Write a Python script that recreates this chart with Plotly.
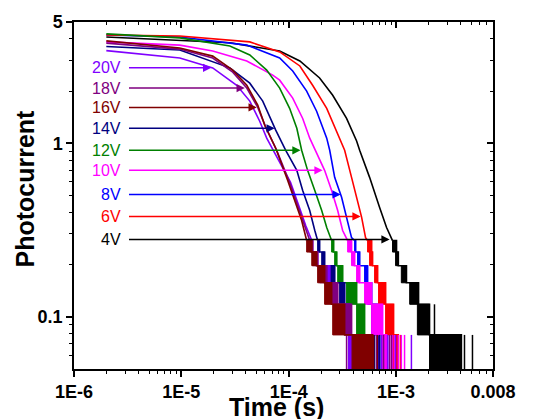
import math
import plotly.graph_objects as go

# ---------------- data ----------------
LEVELS = [0.0393, 0.0786, 0.118, 0.157, 0.197, 0.236, 0.275]   # quantisation levels

labels = ["4V", "6V", "8V", "10V", "12V", "14V", "16V", "18V", "20V"]

# smooth (upper) part of every decay curve
t_4V = [2e-6, 9.68e-6, 2.83e-5, 8.24e-5, 1.27e-4, 1.94e-4, 2.57e-4, 3.46e-4, 4.29e-4, 4.58e-4, 5.67e-4, 7.03e-4, 8.16e-4, 9.27e-4]
i_4V = [4.10, 3.94, 3.80, 3.40, 2.98, 2.38, 1.89, 1.39, 1.03, 0.911, 0.636, 0.427, 0.327, 0.275]
t_6V = [2e-6, 9.68e-6, 4.34e-5, 8.24e-5, 1.27e-4, 1.67e-4, 2.26e-4, 2.98e-4, 3.32e-4, 3.85e-4, 4.29e-4, 4.78e-4, 5.20e-4, 5.43e-4]
i_6V = [4.21, 4.15, 3.84, 3.36, 2.79, 2.16, 1.59, 1.07, 0.911, 0.636, 0.488, 0.374, 0.286, 0.275]
t_8V = [2e-6, 9.68e-6, 4.07e-5, 8.24e-5, 1.09e-4, 1.47e-4, 1.82e-4, 2.26e-4, 2.41e-4, 2.68e-4, 3.11e-4, 3.46e-4, 3.85e-4, 4.11e-4]
i_8V = [4.21, 4.10, 3.68, 3.10, 2.61, 2.00, 1.53, 1.07, 0.911, 0.636, 0.488, 0.374, 0.286, 0.275]
t_10V = [2e-6, 9.68e-6, 1.96e-5, 4.07e-5, 7.10e-5, 8.24e-5, 1.09e-4, 1.35e-4, 1.57e-4, 1.78e-4, 2.16e-4, 2.51e-4, 2.86e-4, 3.18e-4, 3.54e-4]
i_10V = [3.84, 3.68, 3.40, 2.98, 2.47, 2.31, 1.82, 1.39, 1.07, 0.911, 0.698, 0.535, 0.410, 0.314, 0.275]
t_12V = [2e-6, 9.68e-6, 2.83e-5, 4.34e-5, 6.24e-5, 8.24e-5, 1.02e-4, 1.19e-4, 1.32e-4, 1.50e-4, 1.75e-4, 2.03e-4, 2.26e-4, 2.51e-4]
i_12V = [4.27, 4.05, 3.64, 3.23, 2.64, 2.08, 1.59, 1.22, 0.911, 0.698, 0.535, 0.410, 0.327, 0.275]
t_14V = [2e-6, 9.68e-6, 2.83e-5, 4.34e-5, 5.73e-5, 7.57e-5, 9.38e-5, 1.19e-4, 1.35e-4, 1.57e-4, 1.75e-4, 1.86e-4]
i_14V = [3.61, 3.45, 2.72, 2.22, 1.75, 1.19, 0.911, 0.698, 0.535, 0.410, 0.314, 0.275]
t_16V = [2e-6, 9.68e-6, 1.96e-5, 3.01e-5, 4.07e-5, 5.15e-5, 5.98e-5, 7.57e-5, 9.79e-5, 1.14e-4, 1.32e-4, 1.47e-4]
i_16V = [3.89, 3.54, 3.18, 2.64, 2.16, 1.66, 1.27, 0.936, 0.611, 0.469, 0.359, 0.275]
t_18V = [2e-6, 9.68e-6, 1.96e-5, 3.01e-5, 4.07e-5, 5.15e-5, 6.11e-5, 7.73e-5, 1.02e-4, 1.21e-4, 1.41e-4, 1.57e-4]
i_18V = [3.78, 3.49, 3.10, 2.57, 2.08, 1.61, 1.24, 0.911, 0.595, 0.438, 0.336, 0.275]
t_20V = [2e-6, 9.68e-6, 1.96e-5, 3.28e-5, 4.34e-5, 5.37e-5, 6.24e-5, 7.57e-5, 1.04e-4, 1.24e-4, 1.44e-4, 1.64e-4]
i_20V = [3.42, 3.10, 2.72, 2.16, 1.75, 1.34, 1.07, 0.852, 0.595, 0.438, 0.336, 0.275]

# noisy quantised tail: band k toggles between LEVELS[k-1] and LEVELS[k]
band_k = [6, 5, 4, 3, 2, 1]
band_start_4V = [9.27e-4, 9.90e-4, 1.12e-3, 1.34e-3, 1.58e-3, 2.05e-3]
band_end_4V   = [1.01e-3, 1.05e-3, 1.25e-3, 1.62e-3, 2.05e-3, 4.06e-3]
band_start_6V = [5.43e-4, 5.67e-4, 6.31e-4, 6.87e-4, 7.99e-4, 9.48e-4]
band_end_6V   = [5.92e-4, 6.04e-4, 6.73e-4, 7.99e-4, 9.48e-4, 1.05e-3]
band_start_8V = [4.11e-4, 4.38e-4, 5.09e-4, 5.43e-4, 5.92e-4, 6.73e-4]
band_end_8V   = [4.20e-4, 4.58e-4, 5.43e-4, 5.92e-4, 6.73e-4, 7.03e-4]
band_start_10V = [3.54e-4, 3.85e-4, 4.29e-4, 5.09e-4, 5.92e-4, 7.49e-4]
band_end_10V   = [3.85e-4, 4.11e-4, 4.58e-4, 5.92e-4, 7.49e-4, 8.16e-4]
band_start_12V = [2.51e-4, 2.68e-4, 2.86e-4, 3.46e-4, 4.29e-4, 5.09e-4]
band_end_12V   = [2.62e-4, 2.80e-4, 3.18e-4, 4.29e-4, 5.09e-4, 5.67e-4]
band_start_14V = [1.86e-4, 2.03e-4, 2.31e-4, 2.98e-4, 3.32e-4, 3.69e-4]
band_end_14V   = [1.94e-4, 2.16e-4, 2.68e-4, 3.32e-4, 3.69e-4, 4.20e-4]
band_start_16V = [1.47e-4, 1.64e-4, 1.86e-4, 2.16e-4, 2.57e-4, 3.94e-4]
band_end_16V   = [1.64e-4, 1.82e-4, 2.16e-4, 2.51e-4, 3.32e-4, 6.04e-4]
band_start_18V = [1.57e-4, 1.67e-4, 1.94e-4, 2.51e-4, 3.40e-4, 3.85e-4]
band_end_18V   = [1.67e-4, 1.86e-4, 2.26e-4, 2.86e-4, 3.85e-4, 3.94e-4]
band_start_20V = [1.64e-4, 1.78e-4, 2.16e-4, 2.62e-4, 3.32e-4, 3.69e-4]
band_end_20V   = [1.67e-4, 1.86e-4, 2.41e-4, 2.74e-4, 3.69e-4, 3.94e-4]

# isolated noise spikes (time, band index)
spike_t_4V = [2.28e-3, 4.34e-3, 5.15e-3]
spike_k_4V = [2, 1, 1]
spike_t_6V = [1.10e-3]
spike_k_6V = [1]
spike_t_8V = [7.82e-4, 8.34e-4]
spike_k_8V = [1, 1]
spike_t_10V = [8.71e-4, 9.27e-4, 9.68e-4, 1.05e-3, 1.12e-3, 1.20e-3]
spike_k_10V = [1, 1, 1, 1, 1, 1]
spike_t_12V = [6.18e-4]
spike_k_12V = [1]
spike_t_14V = [6.31e-4, 7.03e-4]
spike_k_14V = [1, 1]
spike_t_16V = [6.18e-4, 6.73e-4]
spike_k_16V = [1, 1]
spike_t_18V = [3.46e-4, 6.59e-4, 7.65e-4, 8.71e-4, 9.08e-4]
spike_k_18V = [1, 1, 1, 1, 1]
spike_t_20V = [3.61e-4, 7.33e-4, 8.34e-4, 9.89e-4, 1.39e-3]
spike_k_20V = [1, 1, 1, 1, 1]

# arrow tips of the voltage labels (time, current)
tip_t = [8.71e-4, 4.68e-4, 3.05e-4, 2.07e-4, 1.29e-4, 7.41e-5, 5.04e-5, 3.90e-5, 1.90e-5]
tip_i = [0.279, 0.379, 0.507, 0.698, 0.911, 1.22, 1.61, 2.08, 2.72]

x_ticks = [1e-6, 1e-5, 1e-4, 1e-3, 0.008]
x_ticktext = ["1E-6", "1E-5", "1E-4", "1E-3", "0.008"]
y_ticks = [0.1, 1, 5]
y_ticktext = ["0.1", "1", "5"]

# ---------------- styling ----------------
colors = {"4V": "#000000", "6V": "#FF0000", "8V": "#0000FF", "10V": "#FF00FF",
          "12V": "#008000", "14V": "#000080", "16V": "#800000", "18V": "#800080",
          "20V": "#8000FF"}
draw_order = ["4V", "8V", "6V", "10V", "12V", "14V", "20V", "18V", "16V"]
FONT = "Liberation Sans, Arial, sans-serif"
LW = 1.6

series = {
    "4V": (t_4V, i_4V, band_start_4V, band_end_4V, spike_t_4V, spike_k_4V),
    "6V": (t_6V, i_6V, band_start_6V, band_end_6V, spike_t_6V, spike_k_6V),
    "8V": (t_8V, i_8V, band_start_8V, band_end_8V, spike_t_8V, spike_k_8V),
    "10V": (t_10V, i_10V, band_start_10V, band_end_10V, spike_t_10V, spike_k_10V),
    "12V": (t_12V, i_12V, band_start_12V, band_end_12V, spike_t_12V, spike_k_12V),
    "14V": (t_14V, i_14V, band_start_14V, band_end_14V, spike_t_14V, spike_k_14V),
    "16V": (t_16V, i_16V, band_start_16V, band_end_16V, spike_t_16V, spike_k_16V),
    "18V": (t_18V, i_18V, band_start_18V, band_end_18V, spike_t_18V, spike_k_18V),
    "20V": (t_20V, i_20V, band_start_20V, band_end_20V, spike_t_20V, spike_k_20V),
}

fig = go.Figure()

for name in draw_order:
    ts, cs, bs, be, st, sk = series[name]
    col = colors[name]
    # smooth part
    fig.add_trace(go.Scatter(x=ts, y=cs, mode="lines", line=dict(color=col, width=LW),
                             showlegend=False, hoverinfo="skip"))
    # staircase through the band edges
    sx, sy = [], []
    for a, b, k in zip(bs, be, band_k):
        sx += [a, b]
        sy += [LEVELS[k], LEVELS[k - 1]]
    fig.add_trace(go.Scatter(x=sx, y=sy, mode="lines", line=dict(color=col, width=LW, shape="hv"),
                             showlegend=False, hoverinfo="skip"))
    # filled toggle bands
    rx, ry = [], []
    for a, b, k in zip(bs, be, band_k):
        rx += [a, b, b, a, a, None]
        ry += [LEVELS[k - 1], LEVELS[k - 1], LEVELS[k], LEVELS[k], LEVELS[k - 1], None]
    fig.add_trace(go.Scatter(x=rx, y=ry, mode="lines", fill="toself", fillcolor=col,
                             line=dict(color=col, width=1), showlegend=False, hoverinfo="skip"))
    # isolated spikes
    px, py = [], []
    for t, k in zip(st, sk):
        px += [t, t, None]
        py += [LEVELS[k - 1], LEVELS[k], None]
    fig.add_trace(go.Scatter(x=px, y=py, mode="lines", line=dict(color=col, width=1.5),
                             showlegend=False, hoverinfo="skip"))

# invisible trace to bring the mirrored (inside-tick) axes to life
fig.add_trace(go.Scatter(x=[1e-5], y=[1], xaxis="x2", yaxis="y2", mode="markers",
                         marker=dict(opacity=0), showlegend=False, hoverinfo="skip"))

# labels with arrows
tail_t = 3.15e-6
text_t = 2.85e-6
for name, tt, ti in zip(labels, tip_t, tip_i):
    col = colors[name]
    fig.add_annotation(x=math.log10(tt), y=math.log10(ti), ax=math.log10(tail_t), ay=math.log10(ti),
                       xref="x", yref="y", axref="x", ayref="y", text="", showarrow=True,
                       arrowhead=2, arrowsize=1.1, arrowwidth=1.5, arrowcolor=col, standoff=0)
    fig.add_annotation(x=math.log10(text_t), y=math.log10(ti), xref="x", yref="y", text=name,
                       showarrow=False, xanchor="right", yanchor="middle",
                       font=dict(family=FONT, size=16, color=col))

# axis titles
fig.add_annotation(x=-0.117, y=0.52, xref="paper", yref="paper", text="Photocurrent",
                   textangle=-90, showarrow=False, xanchor="center", yanchor="middle",
                   font=dict(family=FONT, size=25, color="black", weight="bold"))
fig.add_annotation(x=0.483, y=-0.062, xref="paper", yref="paper", text="Time (s)",
                   showarrow=False, xanchor="center", yanchor="top",
                   font=dict(family=FONT, size=25, color="black", weight="bold"))

x_minor = [m * 10 ** e for e in range(-6, -2) for m in range(2, 10) if m * 10 ** e < 0.008]
y_minor = [0.06, 0.07, 0.08, 0.09, 0.2, 0.3, 0.4, 0.5, 0.6, 0.7, 0.8, 0.9, 2, 3, 4]
xr = [-6, math.log10(0.008)]
yr = [math.log10(0.05), math.log10(5)]
tickfont = dict(family=FONT, size=18, color="black", weight="bold")

# the page body adds an 8 px offset, so the margins compensate for it
fig.update_layout(
    width=537, height=419,
    margin=dict(l=66, r=52, t=14, b=58, autoexpand=False),
    paper_bgcolor="white", plot_bgcolor="white",
    showlegend=False,
    xaxis=dict(type="log", range=xr, tickmode="array", tickvals=x_ticks, ticktext=x_ticktext,
               ticks="outside", ticklen=6, tickwidth=1.5, tickcolor="black",
               showline=True, linecolor="black", linewidth=1.5, mirror=True,
               showgrid=False, zeroline=False, tickfont=tickfont, automargin=False,
               minor=dict(tickvals=x_minor, ticks="outside", ticklen=3, tickwidth=1.2,
                          tickcolor="black", showgrid=False)),
    yaxis=dict(type="log", range=yr, tickmode="array", tickvals=y_ticks, ticktext=y_ticktext,
               ticks="outside", ticklen=6, tickwidth=1.5, tickcolor="black",
               showline=True, linecolor="black", linewidth=1.5, mirror=True,
               showgrid=False, zeroline=False, tickfont=tickfont, automargin=False,
               minor=dict(tickvals=y_minor, ticks="outside", ticklen=3, tickwidth=1.2,
                          tickcolor="black", showgrid=False)),
    xaxis2=dict(type="log", range=xr, overlaying="x", side="top", tickmode="array",
                tickvals=x_ticks[:-1], showticklabels=False, ticks="inside", ticklen=6,
                tickwidth=1.5, tickcolor="black", showgrid=False, zeroline=False,
                minor=dict(tickvals=x_minor, ticks="inside", ticklen=3, tickwidth=1.2,
                           tickcolor="black", showgrid=False)),
    yaxis2=dict(type="log", range=yr, overlaying="y", side="right", tickmode="array",
                tickvals=y_ticks, showticklabels=False, ticks="inside", ticklen=6,
                tickwidth=1.5, tickcolor="black", showgrid=False, zeroline=False,
                minor=dict(tickvals=y_minor, ticks="inside", ticklen=3, tickwidth=1.2,
                           tickcolor="black", showgrid=False)),
)

fig.write_html("out.html")
